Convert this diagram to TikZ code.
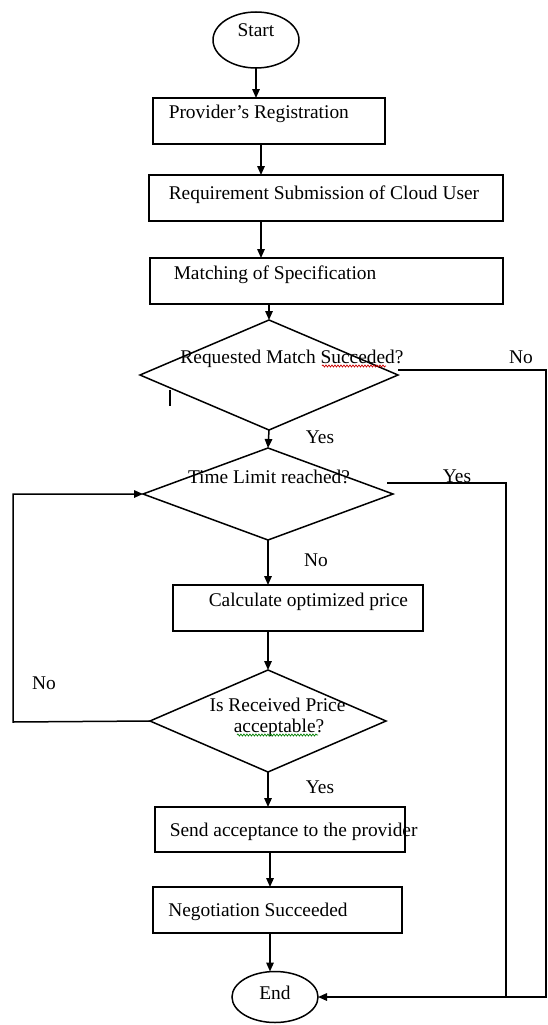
\documentclass[tikz,border=0pt]{standalone}
\usepackage{fontspec}
\setmainfont{Liberation Serif}
\usetikzlibrary{shapes.geometric,arrows.meta,decorations.pathmorphing}
\begin{document}
\begin{tikzpicture}[x=1pt,y=-1pt,line width=1.5pt,
  box/.style={draw,rectangle,inner sep=0pt,outer sep=0pt},
  dia/.style={draw,diamond,inner sep=0pt,outer sep=0pt},
  oval/.style={draw,ellipse,inner sep=0pt,outer sep=0pt},
  txt/.style={anchor=base west,inner sep=0pt,font=\fontsize{19.4}{22}\selectfont},
  lbl/.style={anchor=base,inner sep=0pt,font=\fontsize{19.4}{22}\selectfont},
  arr/.style={-{Triangle[length=9pt,width=7.5pt]}},
  squig/.style={line width=0.7pt,decorate,decoration={snake,amplitude=1pt,segment length=3pt}}]
\useasboundingbox (0,0) rectangle (547,1025);
\fill[white] (0,0) rectangle (547,1025);

% shapes
\node[oval,minimum width=86pt,minimum height=56pt] (start) at (256,40) {};
\node[lbl] (startt) at (256,37) {Start};

\node[box,minimum width=232pt,minimum height=46pt] (b1) at (269,121) {};
\node[txt] (b1t) at (168,118) {Provider's Registration};

\node[box,minimum width=354pt,minimum height=46pt] (b2) at (326,198) {};
\node[txt] (b2t) at (168,199) {Requirement Submission of Cloud User};

\node[box,minimum width=353pt,minimum height=46pt] (b3) at (326.5,281) {};
\node[txt] (b3t) at (173,279) {Matching of Specification};

\node[dia,minimum width=258pt,minimum height=110pt] (d1) at (269,375) {};
\node[lbl] (d1t) at (292,363) {Requested Match Succeded?};

\node[dia,minimum width=250pt,minimum height=92pt] (d2) at (268,494) {};
\node[lbl] (d2t) at (269,483) {Time Limit reached?};

\node[box,minimum width=250pt,minimum height=46pt] (b4) at (298,608) {};
\node[txt] (b4t) at (208,606) {Calculate optimized price};

\node[dia,minimum width=236pt,minimum height=102pt] (d3) at (268,721) {};
\node[lbl] (d3t) at (277.5,711) {Is Received Price};
\node[lbl] (d3u) at (279,732) {acceptable?};

\node[box,minimum width=250pt,minimum height=45pt] (b5) at (280,829.5) {};
\node[txt] (b5t) at (169,836) {Send acceptance to the provider};

\node[box,minimum width=249pt,minimum height=46pt] (b6) at (277.5,910) {};
\node[txt] (b6t) at (167.5,916) {Negotiation Succeeded};

\node[oval,minimum width=86pt,minimum height=51pt] (end) at (275,997) {};
\node[lbl] (endt) at (275,999) {End};

% labels
\node[lbl] (no1) at (521,363) {No};
\node[lbl] (yes1) at (320,443) {Yes};
\node[lbl] (yes2) at (457,482) {Yes};
\node[lbl] (no2) at (316,566) {No};
\node[lbl] (no3) at (44,689) {No};
\node[lbl] (yes3) at (320,793) {Yes};

% axis helpers
\coordinate (axa) at (261,0);
\coordinate (axb) at (270,0);
\coordinate (rc) at (546,997);
\coordinate (yc) at (506,997);
\coordinate (lc) at (13,722);

% main flow
\draw[arr] (start.south) -- (start.south |- b1.north);
\draw[arr] (axa |- b1.south) -- (axa |- b2.north);
\draw[arr] (axa |- b2.south) -- (axa |- b3.north);
\draw[arr] (d1.north |- b3.south) -- (d1.north);
\draw[arr] (d1.south) -- (d2.north);
\draw[arr] (d2.south) -- (d2.south |- b4.north);
\draw[arr] (d3.north |- b4.south) -- (d3.north);
\draw[arr] (d3.south) -- (d3.south |- b5.north);
\draw[arr] (axb |- b5.south) -- (axb |- b6.north);
\draw[arr] (axb |- b6.south) -- (axb |- end.north);

% side branches
\draw[arr] ([yshift=5pt]d1.east) -| (rc) -- (end.east);
\draw ([shift={(-6pt,11pt)}]d2.east) -| (yc);
\draw[arr] (d3.west) -- (lc) |- (d2.west);

% cursor mark and spelling marks
\draw[line width=2.2pt] (170,390) -- (170,406);
\draw[squig,red!80!black] (322,366) -- (386,366);
\draw[squig,green!50!black] (237,735) -- (318,735);
\end{tikzpicture}
\end{document}
